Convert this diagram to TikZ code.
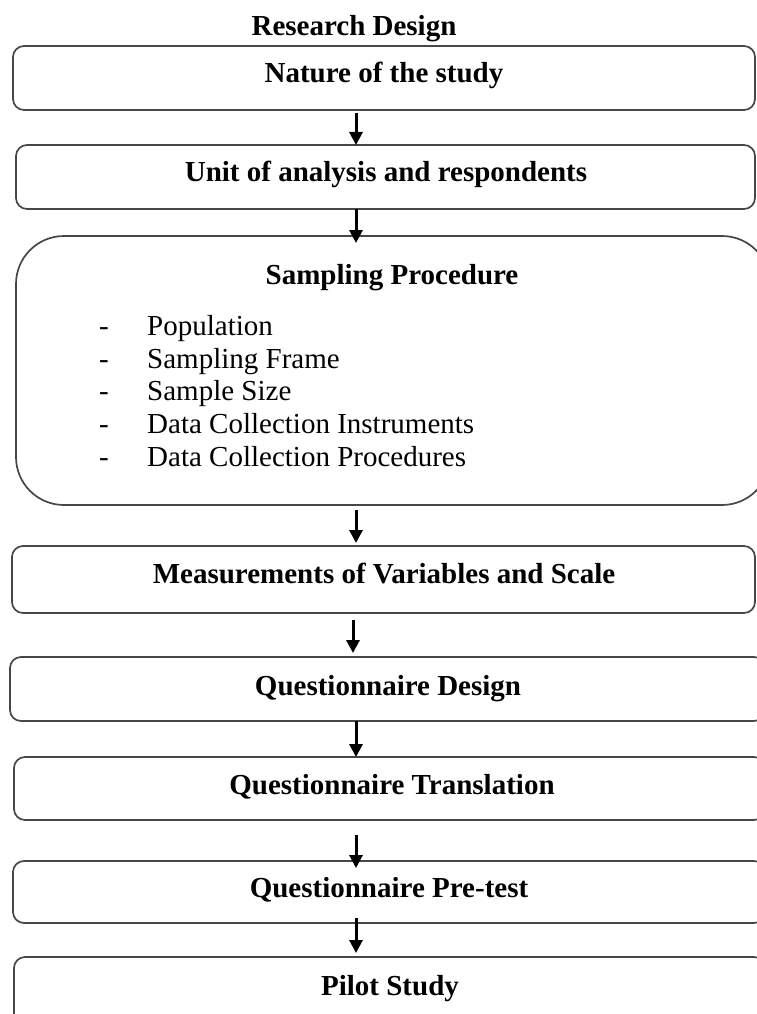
\documentclass[tikz,border=0pt]{standalone}
\usepackage{fontspec}
\setmainfont{Liberation Serif}
\usetikzlibrary{arrows.meta}

\tikzset{
  stagebox/.style={draw=black!72, line width=1.7pt, rounded corners=11pt,
    rectangle, inner sep=0pt, outer sep=0pt},
  bigbox/.style={stagebox, rounded corners=48pt},
  heading/.style={font=\fontsize{29}{33}\selectfont\bfseries, anchor=base, inner sep=0pt},
  item/.style={font=\fontsize{29}{33}\selectfont, anchor=base west, inner sep=0pt},
  bullet/.style={font=\fontsize{29}{33}\selectfont, anchor=base, inner sep=0pt},
  flow/.style={line width=3pt, -{Triangle[length=13pt,width=13pt]}},
}

\begin{document}
\begin{tikzpicture}[x=1pt, y=-1pt]
  \useasboundingbox (0,0) rectangle (757,1014);
  \clip (0,0) rectangle (757,1014);

  % x position shared by all connecting arrows
  \coordinate (ax) at (356,0);

  % title
  \node[heading] (title) at (354,36) {Research Design};

  % stage boxes
  \node[stagebox, minimum width=742pt, minimum height=64pt] (b1) at (384,78) {};
  \node[stagebox, minimum width=739pt, minimum height=64pt] (b2) at (385.5,177) {};
  \node[bigbox,   minimum width=754pt, minimum height=269pt] (b3) at (393,370.5) {};
  \node[stagebox, minimum width=743pt, minimum height=67pt] (b4) at (383.5,579.5) {};
  \node[stagebox, minimum width=755pt, minimum height=64pt] (b5) at (387.5,689) {};
  \node[stagebox, minimum width=751pt, minimum height=63pt] (b6) at (389.5,788.5) {};
  \node[stagebox, minimum width=752pt, minimum height=62pt] (b7) at (389,892) {};
  \node[stagebox, minimum width=751pt, minimum height=73pt] (b8) at (389.5,993.5) {};

  % box labels
  \node[heading] (t1) at (384,83)  {Nature of the study};
  \node[heading] (t2) at (386,181) {Unit of analysis and respondents};
  \node[heading] (t3) at (392,284) {Sampling Procedure};
  \node[heading] (t4) at (384,583) {Measurements of Variables and Scale};
  \node[heading] (t5) at (388,695) {Questionnaire Design};
  \node[heading] (t6) at (392,794) {Questionnaire Translation};
  \node[heading] (t7) at (389,897) {Questionnaire Pre-test};
  \node[heading] (t8) at (390,995) {Pilot Study};

  % sampling procedure list
  \foreach \yy/\txt [count=\i] in {335/Population, 368/Sampling Frame, 400/Sample Size,
      433/Data Collection Instruments, 466/Data Collection Procedures}{
    \node[bullet] (d\i) at (104,\yy) {-};
    \node[item]   (s\i) at (147,\yy) {\txt};
  }

  % connecting arrows
  \draw[flow] ([yshift=-3pt]b1.south -| ax) -- (b2.north -| ax);
  \draw[flow] (b2.south -| ax) -- ([yshift=-7pt]b3.north -| ax);
  \draw[flow] ([yshift=-5pt]b3.south -| ax) -- ([yshift=3pt]b4.north -| ax);
  \draw[flow] ([xshift=-3pt,yshift=-7pt]b4.south -| ax) -- ([xshift=-3pt,yshift=4pt]b5.north -| ax);
  \draw[flow] (b5.south -| ax) -- (b6.north -| ax);
  \draw[flow] ([yshift=-15pt]b6.south -| ax) -- ([yshift=-7pt]b7.north -| ax);
  \draw[flow] ([yshift=5pt]b7.south -| ax) -- ([yshift=4pt]b8.north -| ax);
\end{tikzpicture}
\end{document}
